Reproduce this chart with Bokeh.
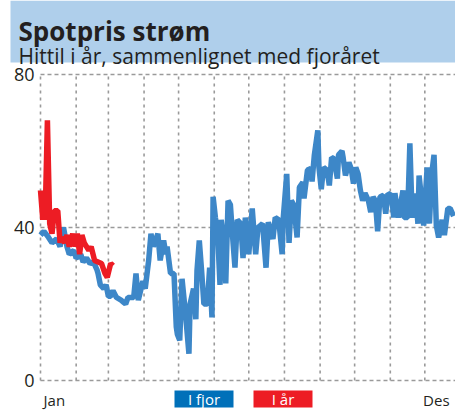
from bokeh.plotting import figure
from bokeh.models import Range1d, BoxAnnotation, Label
from bokeh.core.properties import value
from bokeh.embed import file_html
from bokeh.resources import INLINE

# ---- data (day of year, price) ----
last_year_day = [0, 3, 7, 10, 14, 17, 20, 23, 25, 29, 31, 35, 37, 40, 43, 46, 49, 50, 52, 55,
                 57, 59, 61, 63, 66, 70, 72, 74, 76, 81, 83, 85, 89, 91, 94, 96, 98, 102, 104, 107,
                 109, 110, 113, 116, 118, 119, 121, 123, 126, 129, 130, 133, 135, 136, 138, 140, 142, 145, 147, 149,
                 150, 152, 154, 156, 157, 159, 161, 163, 165, 167, 169, 171, 174, 176, 178, 181, 184, 187, 189, 193,
                 196, 198, 202, 204, 207, 210, 211, 214, 216, 218, 220, 223, 225, 228, 229, 232, 235, 236, 238, 241,
                 242, 244, 246, 249, 251, 253, 255, 258, 259, 262, 263, 265, 268, 270, 272, 274, 276, 278, 280, 282,
                 285, 287, 289, 291, 293, 295, 298, 300, 302, 305, 307, 308, 311, 315, 316, 319, 321, 323, 326, 328,
                 329, 332, 333, 336, 338, 340, 342, 344, 346, 349, 351, 354, 356, 359]
last_year_val = [38, 39, 37.4, 36, 37, 35, 40, 35, 33, 34, 32, 33, 31, 32, 30.6, 31, 29, 28, 25, 24,
                 25, 22, 22, 23.5, 21.7, 21, 20.5, 20, 21.7, 21.7, 28, 21, 26, 24, 31.4, 38.4, 35, 38.4, 31.4, 36.6,
                 33, 35, 28, 28, 14, 12, 10.5, 26.6, 17.5, 7, 20, 24, 16, 28.7, 36.6, 28.7, 20, 20, 29.5, 16.5,
                 48, 42.6, 38, 25, 42, 37.4, 25.4, 47, 46, 37.4, 29.5, 42, 41, 32, 42.6, 33, 45, 33, 40, 41,
                 29.5, 41.4, 37, 42.6, 42, 33, 42.6, 54, 36, 47, 46, 37.4, 50.5, 51.8, 47.6, 55, 55.4, 52, 59, 65.4,
                 55.7, 50, 55.7, 55, 51, 58.3, 58, 52.8, 59, 60, 58.3, 53.6, 57, 55.4, 51.5, 55.7, 54, 49.7, 47, 49,
                 47, 44, 48, 47, 39, 48, 48.4, 43.6, 48.9, 48.4, 42.6, 49, 42.6, 49.7, 42.6, 42.6, 62, 42.6, 48.9, 41,
                 53.6, 45, 40.5, 55.7, 41, 54, 59, 40.5, 37.4, 42, 38, 45, 45, 43]

this_year_day = [0, 2, 3, 4, 6, 8, 10, 12, 15, 17, 18, 21, 23, 25, 28, 30, 32, 34, 36, 38,
                 42, 44, 47, 50, 53, 56, 58, 61, 63]
this_year_val = [49.7, 42, 49, 42, 68, 41, 38.4, 44.4, 44.4, 36, 37.4, 36, 38, 35, 38.4, 35, 38.4, 33, 38, 36,
                 34, 35, 31.4, 31, 30.6, 28, 27, 30.6, 30]

month_starts = [0, 31, 59, 90, 120, 151, 181, 212, 243, 273, 304, 334]
y_ticks = [0, 40, 80]
y_tick_labels = ["0", "40", "80"]
x_label_days = [12, 344]
x_label_text = ["Jan", "Des"]

title_text = "Spotpris strøm"
subtitle_text = "Hittil i år, sammenlignet med fjoråret"
legend_text = ["I fjor", "I år"]

# ---- styling ----
FONT = "Open Sans"
TXT = "#231F20"
BLUE_LINE = "#3D87C8"
BLUE_BOX = "#0070B9"
RED = "#ED1C24"
BAND = "#AFCFEB"
GRID = "#9A9A9A"

W, H = 455, 414
PX_DAY = 35 * 12 / 365.0      # pixels per day
PX_VAL = 306 / 80.0           # pixels per price unit
X0, Y0 = 40, 380              # page position of (day 0, price 0)

x_range = Range1d(-X0 / PX_DAY, (W - X0) / PX_DAY)
y_range = Range1d(-(H - Y0) / PX_VAL, Y0 / PX_VAL)

p = figure(width=W, height=H, output_backend="svg", toolbar_location=None,
           x_range=x_range, y_range=y_range, x_axis_type=None, y_axis_type=None,
           min_border=0)
p.outline_line_color = None
p.background_fill_color = "white"
p.border_fill_color = "white"

S = dict(left_units="screen", right_units="screen", top_units="screen", bottom_units="screen")

# header band
p.add_layout(BoxAnnotation(left=10, right=W, bottom=H - 62, top=H, fill_color=BAND,
                           fill_alpha=1, line_color=None, level="underlay", **S))

# grid
x_end = x_range.end
p.segment(x0=month_starts, y0=0, x1=month_starts, y1=80, line_color=GRID,
          line_dash="3 4", line_width=1.6)
p.segment(x0=0, y0=y_ticks, x1=x_end, y1=y_ticks, line_color=GRID,
          line_dash="4 3", line_width=1.6)

# series
p.line(last_year_day, last_year_val, line_color=BLUE_LINE, line_width=5.5)
p.line(this_year_day, this_year_val, line_color=RED, line_width=5.5)

# tick labels
p.text(x=0, y=y_ticks, text=y_tick_labels, x_offset=-6, text_align="right",
       text_baseline="middle", text_font=value(FONT), text_font_size="18px", text_color=TXT)
p.text(x=x_label_days, y=0, text=x_label_text, y_offset=19, text_align="center",
       text_baseline="alphabetic", text_font=value(FONT), text_font_size="15px", text_color=TXT)

# titles
p.add_layout(Label(x=18, y=H - 30, x_units="screen", y_units="screen", text=title_text,
                   text_font=FONT, text_font_style="bold", text_font_size="26px",
                   text_color=TXT, text_baseline="alphabetic"))
p.add_layout(Label(x=18, y=H - 55, x_units="screen", y_units="screen", text=subtitle_text,
                   text_font=FONT, text_font_size="21px",
                   text_color=TXT, text_baseline="alphabetic"))

# legend boxes
for i, (lab, col) in enumerate(zip(legend_text, [BLUE_BOX, RED])):
    left = 174 + i * 79
    p.add_layout(BoxAnnotation(left=left, right=left + 59, top=H - 390, bottom=H - 407,
                               fill_color=col, fill_alpha=1, line_color=None, **S))
    p.add_layout(Label(x=left + 29.5, y=H - 398.5, x_units="screen", y_units="screen", text=lab,
                       text_font=FONT, text_font_size="15px", text_color="white",
                       text_align="center", text_baseline="middle"))

open("out.html", "w").write(file_html(p, INLINE))
